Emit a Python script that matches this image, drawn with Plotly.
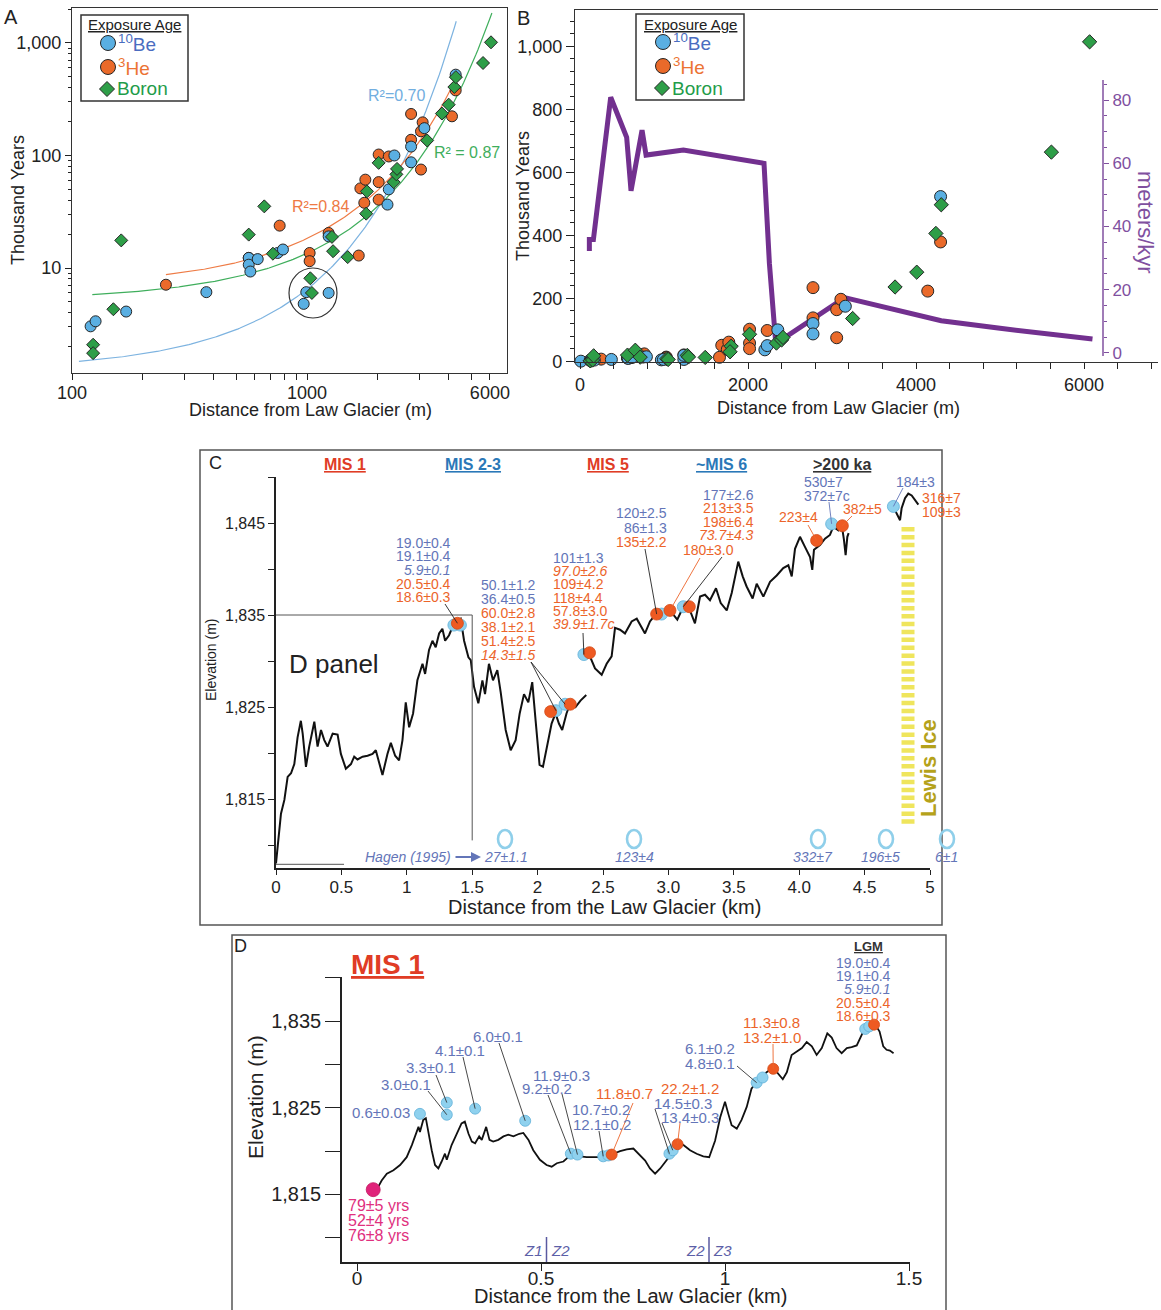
import plotly.graph_objects as go
import numpy as np

W, H = 1161, 1310
FONT = "Liberation Sans, Arial, Helvetica, sans-serif"

# ---------------- Panels A & B : exposure ages (thousand years) vs distance (m) ----------------
be_dist = [10, 120, 126, 170, 373, 565, 565, 574, 617, 750, 790, 968, 993, 1236, 1236,
           2200, 2228, 2354, 2773, 2773, 3158, 4292]
be_age = [0.6, 3.03, 3.36, 4.1, 6.1, 12.3, 10.7, 9.3, 12.0, 13.6, 14.6, 4.8, 6.1, 6.0, 19.1,
          36.6, 50, 100, 120, 87, 175, 523]
he_dist = [251, 565, 765, 1026, 1026, 1236, 1660, 1687, 1753, 1771, 2018, 2018, 2018, 2228,
           2773, 2773, 3055, 3055, 3105, 4139, 4292]
he_age = [7.1, 12.3, 23.8, 13.6, 11.5, 20.5, 12.9, 51, 38, 61, 102, 58, 40.5, 98,
          138, 234, 75, 164, 197, 223, 379]
bo_dist = [123, 123, 150, 162, 565, 658, 716, 1033, 1049, 1277, 1291, 1490, 1799, 1786, 2018,
           2338, 2400, 2416, 3245, 3750, 4008, 4236, 4300, 5611, 6066]
bo_age = [2.08, 1.75, 4.3, 17.6, 19.8, 35.3, 13.4, 8.1, 6.0, 18.9, 14.1, 12.5, 48, 30.4, 86,
          58, 68, 76, 136, 236, 283, 406, 497, 664, 1014]

# exponential trend lines  age = a * exp(b * distance), drawn between start and end distance
fit_be = dict(a=1.24, b=0.001654, start=107, end=4315, r2="R²=0.70")
fit_he = dict(a=6.81, b=0.000987, start=251, end=4292, r2="R²=0.84")
fit_bo = dict(a=5.16, b=0.000961, start=122, end=6120, r2="R² = 0.87")

# erosion rate (meters/kyr) along distance, panel B right axis
rate_dist = [111, 111, 159, 365, 555, 607, 738, 786, 1230, 2190, 2254, 2330,
             3150, 3600, 4000, 4300, 5000, 5600, 6100]
rate_val = [32.3, 35.9, 35.9, 80.9, 68.2, 51.3, 70.5, 62.6, 64.2, 60.0, 28.4, 3.0,
            17.5, 14.5, 12.0, 10.2, 7.8, 5.8, 4.4]

# ---------------- Panel C : elevation profile (km, m) ----------------
c1_km = [0, 0.013, 0.038, 0.064, 0.089, 0.115, 0.14, 0.165, 0.19, 0.204,
         0.229, 0.254, 0.293, 0.318, 0.344, 0.369, 0.394, 0.433, 0.471, 0.496,
         0.534, 0.573, 0.598, 0.623, 0.662, 0.70, 0.738, 0.763, 0.789, 0.814,
         0.852, 0.878, 0.911, 0.941, 0.967, 0.992, 1.018, 1.048, 1.081, 1.12,
         1.14, 1.17, 1.196, 1.221, 1.247, 1.272, 1.293, 1.323, 1.361, 1.387,
         1.412, 1.438, 1.471, 1.489, 1.514, 1.547, 1.578, 1.598, 1.628, 1.659,
         1.692, 1.718, 1.756, 1.794, 1.832, 1.863, 1.896, 1.929, 1.959, 1.985,
         2.015, 2.041, 2.074, 2.107, 2.137, 2.163, 2.188, 2.221, 2.252, 2.29,
         2.328, 2.372]
c1_el = [1808.0, 1809.8, 1813.4, 1814.9, 1817.4, 1817.8, 1818.8, 1821.7, 1823.5, 1822.1,
         1818.5, 1820.7, 1823.4, 1820.7, 1822.5, 1821.4, 1820.7, 1822.1, 1822.0, 1819.9,
         1818.3, 1818.8, 1819.6, 1819.3, 1819.6, 1819.7, 1819.9, 1820.3, 1818.8, 1817.6,
         1819.9, 1821.1, 1819.7, 1819.2, 1821.4, 1825.5, 1822.8, 1824.3, 1827.9, 1829.7,
         1828.6, 1831.2, 1832.2, 1831.5, 1833.0, 1833.5, 1832.2, 1832.8, 1834.1, 1834.4,
         1834.6, 1832.2, 1830.4, 1830.1, 1827.2, 1825.4, 1827.9, 1826.4, 1829.7, 1827.9,
         1829.0, 1826.6, 1822.5, 1820.3, 1821.4, 1824.3, 1826.4, 1825.5, 1827.7, 1823.5,
         1818.7, 1818.5, 1821.0, 1823.2, 1824.3, 1823.2, 1822.5, 1824.3, 1825.5, 1825.0,
         1825.7, 1826.3]
c2_km = [2.366, 2.40, 2.439, 2.49, 2.528, 2.566, 2.592, 2.63, 2.668, 2.719,
         2.758, 2.796, 2.821, 2.859, 2.91, 2.961, 3.012, 3.068, 3.114, 3.165,
         3.203, 3.242, 3.28, 3.318, 3.364, 3.40, 3.446, 3.484, 3.534, 3.568,
         3.598, 3.644, 3.675, 3.726, 3.777, 3.828, 3.878, 3.917, 3.943, 3.968,
         4.006, 4.044, 4.083, 4.10, 4.113, 4.159, 4.197, 4.235, 4.261, 4.299,
         4.325, 4.342, 4.355, 4.368, 4.378]
c2_el = [1831.0, 1830.5, 1829.2, 1828.5, 1829.7, 1830.5, 1833.6, 1833.4, 1833.0, 1834.3,
         1834.6, 1833.7, 1833.0, 1834.3, 1835.2, 1835.4, 1835.5, 1834.5, 1835.9, 1835.5,
         1834.1, 1837.0, 1837.2, 1836.6, 1837.9, 1836.3, 1835.5, 1837.4, 1840.8, 1839.2,
         1838.1, 1836.8, 1838.4, 1837.0, 1838.6, 1839.3, 1840.1, 1840.4, 1839.2, 1842.2,
         1843.5, 1842.4, 1841.3, 1839.9, 1842.1, 1842.6, 1843.3, 1843.7, 1844.6, 1844.2,
         1844.8, 1843.2, 1841.5, 1843.5, 1843.9]
c3_km = [4.694, 4.732, 4.771, 4.783, 4.809, 4.834, 4.86, 4.885, 4.911]
c3_el = [1846.8, 1846.4, 1845.3, 1846.6, 1847.7, 1848.2, 1848.0, 1847.5, 1847.0]

c_be_km = [1.36, 1.41, 2.14, 2.21, 2.354, 2.948, 3.114, 4.248, 4.72]
c_be_el = [1833.9, 1833.9, 1824.6, 1825.3, 1830.7, 1835.1, 1835.9, 1844.9, 1846.8]
c_he_km = [1.387, 2.10, 2.25, 2.397, 2.91, 3.012, 3.16, 4.133, 4.33]
c_he_el = [1834.1, 1824.5, 1825.3, 1830.9, 1835.1, 1835.5, 1835.9, 1843.1, 1844.7]

# ---------------- Panel D : MIS 1 detail profile ----------------
d_km = [0.058, 0.067, 0.081, 0.099, 0.117, 0.135, 0.149, 0.160, 0.167, 0.171,
        0.18, 0.187, 0.194, 0.203, 0.212, 0.221, 0.23, 0.239, 0.244, 0.257,
        0.271, 0.284, 0.293, 0.303, 0.312, 0.321, 0.332, 0.339, 0.351, 0.36,
        0.37, 0.384, 0.398, 0.411, 0.425, 0.441, 0.452, 0.466, 0.479, 0.497,
        0.515, 0.529, 0.543, 0.561, 0.574, 0.588, 0.606, 0.624, 0.643, 0.661,
        0.679, 0.697, 0.715, 0.733, 0.751, 0.765, 0.783, 0.796, 0.81, 0.824,
        0.837, 0.851, 0.862, 0.873, 0.887, 0.905, 0.923, 0.941, 0.957, 0.973,
        0.987, 1.0, 1.009, 1.018, 1.032, 1.045, 1.059, 1.072, 1.086, 1.1,
        1.113, 1.127, 1.141, 1.157, 1.168, 1.181, 1.195, 1.209, 1.222, 1.236,
        1.249, 1.263, 1.278, 1.29, 1.303, 1.317, 1.331, 1.344, 1.358, 1.369,
        1.38, 1.394, 1.408, 1.42, 1.43, 1.439, 1.448, 1.458]
d_el = [1815.9, 1816.6, 1817.4, 1817.8, 1818.4, 1819.3, 1820.7, 1822.0, 1822.8, 1822.2,
        1823.6, 1823.8, 1822.0, 1820.1, 1818.4, 1818.0, 1818.8, 1819.7, 1819.0, 1820.7,
        1822.0, 1823.2, 1823.4, 1822.0, 1821.1, 1820.9, 1821.7, 1821.3, 1822.8, 1821.3,
        1821.1, 1821.3, 1821.7, 1821.9, 1821.7, 1822.0, 1822.1, 1821.3, 1820.1, 1819.0,
        1818.4, 1818.2, 1818.6, 1818.8, 1819.3, 1819.3, 1819.4, 1819.3, 1819.3, 1819.3,
        1819.6, 1819.7, 1820.0, 1820.2, 1820.3, 1819.7, 1818.9, 1818.0, 1817.4, 1818.0,
        1818.7, 1819.5, 1820.7, 1821.1, 1820.7, 1820.1, 1819.7, 1819.4, 1819.3, 1821.2,
        1823.9, 1825.7, 1824.3, 1823.0, 1822.6, 1823.6, 1825.1, 1827.2, 1828.0, 1828.6,
        1829.1, 1829.5, 1829.1, 1828.3, 1829.1, 1831.1, 1831.5, 1831.9, 1832.6, 1832.1,
        1831.1, 1831.9, 1833.6, 1833.1, 1831.9, 1831.3, 1831.9, 1832.0, 1832.2, 1833.2,
        1834.2, 1834.4, 1834.6, 1833.8, 1832.1, 1831.7, 1831.6, 1831.3]
d_be_km = [0.171, 0.244, 0.244, 0.321, 0.457, 0.581, 0.599, 0.669, 0.683, 0.849, 0.858,
           1.086, 1.102, 1.381, 1.392]
d_be_el = [1824.3, 1825.6, 1824.2, 1824.9, 1823.5, 1819.7, 1819.6, 1819.4, 1819.5, 1819.7,
           1820.1, 1827.9, 1828.5, 1834.1, 1834.4]
d_he_km = [0.692, 0.871, 1.131, 1.405]
d_he_el = [1819.6, 1820.8, 1829.5, 1834.6]
d_hist_km = [0.044]
d_hist_el = [1815.55]

# ---------------- tick values ----------------
a_xt = [100, 1000, 6000]
a_xminor = [200, 300, 400, 500, 600, 700, 800, 900, 2000, 3000, 4000, 5000]
a_yt = [10, 100, 1000]
a_yminor = [v * m for m in (1, 10, 100) for v in range(2, 10)] + [2000]
b_xt = [0, 2000, 4000, 6000]
b_xminor = [v for v in range(400, 6801, 400) if v % 2000]
b_yt = [0, 200, 400, 600, 800, 1000]
b_yminor = [v for v in range(40, 1081, 40) if v % 200]
r_yt = [0, 20, 40, 60, 80]
r_yminor = [v for v in range(5, 86, 5) if v % 20]
c_xt = [0, 0.5, 1, 1.5, 2, 2.5, 3, 3.5, 4, 4.5, 5]
c_xl = ["0", "0.5", "1", "1.5", "2", "2.5", "3.0", "3.5", "4.0", "4.5", "5"]
c_yt = [1815, 1825, 1835, 1845]
c_yminor = [1810, 1820, 1830, 1840, 1850]
d_xt = [0, 0.5, 1, 1.5]
d_yt = [1815, 1825, 1835]
d_yminor = [1810, 1820, 1830, 1840]

# ---------------- colours ----------------
BE_C, HE_C, BO_C = "#5aafe2", "#ea6a2a", "#2e9e48"
BE_T, HE_T, BO_T = "#4a6cc0", "#ec7333", "#1f9c4a"
LBLUE, LORANGE, PINK = "#8fd1ee", "#ee5a22", "#e0237a"
TB, TO, TP = "#6375b8", "#ec642a", "#e0307e"
PURPLE, PURPLE_T = "#72308f", "#80509f"

def X(px):
    return px / W

def Y(py):
    return 1 - py / H

# axis geometry (pixels): left, right, top, bottom + ranges
C_G = dict(l=276, r=930, t=477, b=868, x0=0.0, x1=5.0, y0=1807.5, y1=1850.0)
D_G = dict(l=342, r=910, t=977, b=1262, x0=-0.0408, x1=1.5027, y0=1807.2, y1=1840.1)

def to_px(g, x, y):
    px = g["l"] + (x - g["x0"]) / (g["x1"] - g["x0"]) * (g["r"] - g["l"])
    py = g["b"] - (y - g["y0"]) / (g["y1"] - g["y0"]) * (g["b"] - g["t"])
    return px, py

fig = go.Figure()

# ---------- Panel A ----------
for f, col in [(fit_be, "#7db3e0"), (fit_he, "#ee7b45"), (fit_bo, "#3fae5c")]:
    xs = np.geomspace(f["start"], f["end"], 200)
    fig.add_trace(go.Scatter(x=xs, y=f["a"] * np.exp(f["b"] * xs), mode="lines",
                             line=dict(color=col, width=1.2), xaxis="x", yaxis="y",
                             hoverinfo="skip"))

def pts(x, y, xa, ya, sym, col, size, clip=True):
    return go.Scatter(x=x, y=y, mode="markers", xaxis=xa, yaxis=ya, cliponaxis=clip,
                      marker=dict(symbol=sym, size=size, color=col,
                                  line=dict(color="#262626", width=1)),
                      hoverinfo="skip")

fig.add_trace(pts(he_dist, he_age, "x", "y", "circle", HE_C, 11))
fig.add_trace(pts(be_dist, be_age, "x", "y", "circle", BE_C, 11))
fig.add_trace(pts(bo_dist, bo_age, "x", "y", "diamond", BO_C, 10))

# ---------- Panel B ----------
fig.add_trace(go.Scatter(x=rate_dist, y=rate_val, mode="lines", xaxis="x2", yaxis="y2",
                         line=dict(color=PURPLE, width=5), hoverinfo="skip"))
fig.add_trace(pts(he_dist, he_age, "x2", "y3", "circle", HE_C, 12, False))
fig.add_trace(pts(be_dist, be_age, "x2", "y3", "circle", BE_C, 12, False))
fig.add_trace(pts(bo_dist, bo_age, "x2", "y3", "diamond", BO_C, 11, False))

# ---------- Panel C ----------
for xs, ys in [(c1_km, c1_el), (c2_km, c2_el), (c3_km, c3_el)]:
    fig.add_trace(go.Scatter(x=xs, y=ys, mode="lines", xaxis="x4", yaxis="y4",
                             line=dict(color="#111", width=2), hoverinfo="skip"))

def soft(x, y, xa, ya, col, edge, size):
    return go.Scatter(x=x, y=y, mode="markers", xaxis=xa, yaxis=ya, cliponaxis=False,
                      marker=dict(size=size, color=col, line=dict(color=edge, width=0.8)),
                      hoverinfo="skip")

fig.add_trace(soft(c_be_km, c_be_el, "x4", "y4", LBLUE, "#5fb0d8", 12))
fig.add_trace(soft(c_he_km, c_he_el, "x4", "y4", LORANGE, "#d24a18", 12))

# ---------- Panel D ----------
fig.add_trace(go.Scatter(x=d_km, y=d_el, mode="lines", xaxis="x5", yaxis="y5",
                         line=dict(color="#111", width=1.8), hoverinfo="skip"))
fig.add_trace(soft(d_be_km, d_be_el, "x5", "y5", LBLUE, "#5fb0d8", 11))
fig.add_trace(soft(d_he_km, d_he_el, "x5", "y5", LORANGE, "#d24a18", 11))
fig.add_trace(soft(d_hist_km, d_hist_el, "x5", "y5", PINK, "#c01860", 14))

# ---------------- annotations & shapes ----------------
anns, shapes = [], []

def ann(text, px, py, size=14, color="#222", xa="center", ya="middle", angle=0, family=FONT):
    anns.append(dict(x=X(px), y=Y(py), xref="paper", yref="paper", text=text,
                     showarrow=False, xanchor=xa, yanchor=ya, textangle=angle,
                     font=dict(size=size, color=color, family=family)))

def block(lines, px, py0, dy, xa, size):
    for i, (t, c) in enumerate(lines):
        ann(t, px, py0 + i * dy, size, c, xa)

def seg(p0, p1, color="#333", width=0.9):
    shapes.append(dict(type="line", xref="paper", yref="paper", x0=X(p0[0]), y0=Y(p0[1]),
                       x1=X(p1[0]), y1=Y(p1[1]), line=dict(color=color, width=width)))

def rect(x0, y0, x1, y1, color="#555", width=1.5, fill="rgba(0,0,0,0)"):
    shapes.append(dict(type="rect", xref="paper", yref="paper", x0=X(x0), y0=Y(y1),
                       x1=X(x1), y1=Y(y0), line=dict(color=color, width=width), fillcolor=fill))

def circ(cx, cy, rx, ry, fill, line="#262626", lw=1):
    shapes.append(dict(type="circle", xref="paper", yref="paper", x0=X(cx - rx), x1=X(cx + rx),
                       y0=Y(cy + ry), y1=Y(cy - ry), fillcolor=fill, line=dict(color=line, width=lw)))

def diamond(cx, cy, r, fill):
    path = (f"M {X(cx)} {Y(cy - r)} L {X(cx + r)} {Y(cy)} L {X(cx)} {Y(cy + r)} "
            f"L {X(cx - r)} {Y(cy)} Z")
    shapes.append(dict(type="path", xref="paper", yref="paper", path=path, fillcolor=fill,
                       line=dict(color="#262626", width=1)))

# Panel A text
ann("A", 11, 17, 20)
ann("Thousand Years", 18, 200, 18, angle=-90)
ann("Distance from Law Glacier (m)", 310, 410, 18)
ann(fit_be["r2"], 396, 96, 16, "#72aee0")
ann(fit_bo["r2"], 467, 152, 16, "#3fae5c")
ann(fit_he["r2"], 321, 206, 16, "#ee7a44")
circ(313, 293, 24, 25, "rgba(0,0,0,0)", "#333", 1.2)

# Legends (A and B)
for (bx0, by0, bx1, by1) in [(81, 15, 188, 101), (636, 14, 744, 100)]:
    rect(bx0, by0, bx1, by1, "#333", 1.5, "white")
    cx = bx0 + 27
    ann("<u>Exposure Age</u>", (bx0 + bx1) / 2, by0 + 10, 15, "#222")
    circ(cx, by0 + 28, 7.5, 7.5, BE_C)
    circ(cx, by0 + 52, 7.5, 7.5, HE_C)
    diamond(cx - 1, by0 + 74, 7.5, BO_C)
    ann("<sup>10</sup>Be", cx + 8, by0 + 28, 19, BE_T, "left")
    ann("<sup>3</sup>He", cx + 8, by0 + 52, 19, HE_T, "left")
    ann("Boron", cx + 7, by0 + 74, 19, BO_T, "left")

# Panel B text
ann("B", 523, 18, 20)
ann("Thousand Years", 523, 196, 18, angle=-90)
ann("Distance from Law Glacier (m)", 838, 408, 18)
ann("meters/kyr", 1146, 222, 22, PURPLE_T, angle=90)
seg((1103, 80), (1103, 356), PURPLE_T, 1.5)

# ---------- Panel C decorations ----------
rect(200, 450, 942, 925, "#555", 1.5)
ann("C", 215, 463, 18)
for t, px, col in [("MIS 1", 345, "#e03c25"), ("MIS 2-3", 473, "#2a78b8"), ("MIS 5", 608, "#e03c25"),
                   ("~MIS 6", 721, "#2a78b8"), ("&gt;200 ka", 842, "#333")]:
    ann(f"<b><u>{t}</u></b>", px, 464, 16, col)
ann("Elevation (m)", 211, 660, 14, angle=-90)
ann("Distance from the Law Glacier (km)", 604, 907, 20)
ann("D panel", 334, 664, 26)
# D-panel outline
shapes.append(dict(type="line", xref="x4", yref="y4", x0=0, x1=1.5, y0=1835, y1=1835,
                   line=dict(color="#555", width=1)))
shapes.append(dict(type="line", xref="x4", yref="y4", x0=1.5, x1=1.5, y0=1835, y1=1810.5,
                   line=dict(color="#555", width=1)))
shapes.append(dict(type="line", xref="x4", yref="y4", x0=0, x1=0.52, y0=1807.9, y1=1807.9,
                   line=dict(color="#777", width=1.2)))

C = lambda i, arr_x, arr_y: to_px(C_G, arr_x[i], arr_y[i])
block([("19.0±0.4", TB), ("19.1±0.4", TB), ("<i>5.9±0.1</i>", TB), ("20.5±0.4", TO),
       ("18.6±0.3", TO)], 453, 543, 13.5, "right", 14)
seg((445, 604), C(0, c_he_km, c_he_el), "#222")
block([("50.1±1.2", TB), ("36.4±0.5", TB), ("60.0±2.8", TO), ("38.1±2.1", TO),
       ("51.4±2.5", TO), ("<i>14.3±1.5</i>", TO)], 479, 585, 14, "left", 14)
seg((531, 662), C(2, c_be_km, c_be_el), "#222")
seg((531, 662), C(3, c_be_km, c_be_el), "#222")
block([("101±1.3", TB), ("<i>97.0±2.6</i>", TO), ("109±4.2", TO), ("118±4.4", TO),
       ("57.8±3.0", TO), ("<i>39.9±1.7c</i>", TO)], 551, 558, 13.2, "left", 14)
seg((583, 633), C(4, c_be_km, c_be_el), "#222")
block([("120±2.5", TB), ("86±1.3", TB), ("135±2.2", TO)], 669, 513, 14.5, "right", 14)
seg((645, 549), C(4, c_he_km, c_he_el), "#222")
block([("177±2.6", TB), ("213±3.5", TO), ("198±6.4", TO), ("<i>73.7±4.3</i>", TO)],
      756, 495, 13.4, "right", 14)
seg((722, 557), C(6, c_be_km, c_be_el), "#222")
ann("180±3.0", 681, 550, 14, TO, "left")
seg((700, 558), C(5, c_he_km, c_he_el), TO)
block([("530±7", TB), ("372±7c", TB)], 802, 482, 13.5, "left", 14)
seg((829, 502), C(7, c_be_km, c_be_el), TB)
ann("223±4", 798, 517, 14, TO)
seg((808, 525), C(7, c_he_km, c_he_el), TO)
ann("382±5", 862, 509, 14, TO)
seg((852, 516), C(8, c_he_km, c_he_el), TO)
ann("184±3", 916, 482, 14, TB)
seg((903, 488), C(8, c_be_km, c_be_el), TB)
block([("316±7", TO), ("109±3", TO)], 920, 498, 14, "left", 14)

# Lewis Ice
shapes.append(dict(type="line", xref="paper", yref="paper", x0=X(908), x1=X(908),
                   y0=Y(527), y1=Y(827), line=dict(color="#efe55c", width=13, dash="4.5px,3.4px")))
ann("<b>Lewis Ice</b>", 928, 768, 22, "#b5a21a", angle=-90)

# bottom italic ages
for cx in [505, 634, 818, 886, 947]:
    circ(cx, 839, 7, 9, "rgba(0,0,0,0)", "#8fcfea", 2.6)
ann("<i>Hagen (1995)</i>", 453, 857, 14, TB, "right")
anns.append(dict(x=X(481), y=Y(857), xref="paper", yref="paper", text="", showarrow=True,
                 ax=-27, ay=0, arrowhead=2, arrowsize=1, arrowwidth=2, arrowcolor=TB))
ann("<i>27±1.1</i>", 482, 857, 14, TB, "left")
ann("<i>123±4</i>", 635, 857, 14, TB)
ann("<i>332±7</i>", 813, 857, 14, TB)
ann("<i>196±5</i>", 880, 857, 14, TB)
ann("<i>6±1</i>", 946, 857, 14, TB)

# ---------- Panel D decorations ----------
rect(232, 935, 946, 1312, "#555", 1.5)
ann("D", 240, 946, 18)
ann("<b><u>MIS 1</u></b>", 387, 964, 28, "#e03c25")
ann("Elevation (m)", 255, 1097, 21, angle=-90)
ann("Distance from the Law Glacier (km)", 630, 1296, 20)

Dp = lambda i, arr_x, arr_y: to_px(D_G, arr_x[i], arr_y[i])
ann("0.6±0.03", 412, 1112, 15, TB, "right")
ann("3.0±0.1", 379, 1084, 15, TB, "left")
seg((428, 1091), Dp(2, d_be_km, d_be_el))
ann("3.3±0.1", 404, 1067, 15, TB, "left")
seg((436, 1075), Dp(1, d_be_km, d_be_el))
ann("4.1±0.1", 433, 1050, 15, TB, "left")
seg((463, 1057), Dp(3, d_be_km, d_be_el))
ann("6.0±0.1", 471, 1036, 15, TB, "left")
seg((499, 1043), Dp(4, d_be_km, d_be_el))
ann("11.9±0.3", 531, 1075, 15, TB, "left")
ann("9.2±0.2", 520, 1088, 15, TB, "left")
seg((548, 1095), Dp(5, d_be_km, d_be_el))
seg((562, 1094), Dp(6, d_be_km, d_be_el))
ann("11.8±0.7", 594, 1093, 15, TO, "left")
seg((633, 1103), Dp(0, d_he_km, d_he_el), TO)
ann("10.7±0.2", 570, 1109, 15, TB, "left")
ann("12.1±0.2", 571, 1124, 15, TB, "left")
seg((599, 1131), Dp(7, d_be_km, d_be_el))
ann("22.2±1.2", 659, 1088, 15, TO, "left")
ann("14.5±0.3", 652, 1103, 15, TB, "left")
ann("13.4±0.3", 659, 1117, 15, TB, "left")
seg((655, 1109), Dp(9, d_be_km, d_be_el))
seg((662, 1123), Dp(10, d_be_km, d_be_el))
seg((680, 1123), Dp(1, d_he_km, d_he_el), TO)
ann("6.1±0.2", 737, 1048, 15, TB, "right")
ann("4.8±0.1", 737, 1063, 15, TB, "right")
seg((737, 1066), Dp(11, d_be_km, d_be_el))
ann("11.3±0.8", 772, 1022, 15, TO)
ann("13.2±1.0", 772, 1037, 15, TO)
seg((773, 1044), Dp(2, d_he_km, d_he_el), TO)
ann("<b><u>LGM</u></b>", 868, 946, 13, "#333")
block([("19.0±0.4", TB), ("19.1±0.4", TB), ("<i>5.9±0.1</i>", TB), ("20.5±0.4", TO),
       ("18.6±0.3", TO)], 893, 963, 13.2, "right", 14)
block([("79±5 yrs", TP), ("52±4 yrs", TP), ("76±8 yrs", TP)], 346, 1205, 15, "left", 16)
for bx, l, r in [(546.5, "Z1", "Z2"), (709, "Z2", "Z3")]:
    seg((bx, 1237), (bx, 1262), "#5a5aa0", 1.5)
    ann(f"<i>{l}</i>", bx - 2, 1250, 15, "#5c5fa8", "right")
    ann(f"<i>{r}</i>", bx + 2, 1250, 15, "#5c5fa8", "left")

# ---------------- axes ----------------
base = dict(showgrid=False, zeroline=False, showline=True, linecolor="#222", linewidth=1.2,
            ticks="outside", tickcolor="#222", tickwidth=1, automargin=False, tickangle=0)

def minor(vals, ln, col="#222"):
    return dict(tickvals=vals, ticks="outside", ticklen=ln, tickcolor=col, tickwidth=1)

layout = dict(
    width=W, height=H, margin=dict(l=0, r=0, t=0, b=0, autoexpand=False), paper_bgcolor="white",
    plot_bgcolor="rgba(0,0,0,0)", showlegend=False, font=dict(family=FONT, color="#222"),
    xaxis=dict(base, domain=[X(72), X(507)], type="log", range=[2, 3.851], anchor="y",
               tickvals=a_xt, ticktext=["100", "1000", "6000"], ticklen=6, mirror=True,
               linecolor="#333", tickfont=dict(size=18), ticklabelstandoff=-3,
               minor=minor(a_xminor, 6)),
    yaxis=dict(base, domain=[Y(373), Y(8)], type="log", range=[0.0667, 3.311], anchor="x",
               tickvals=a_yt, ticktext=["10", "100", "1,000"], ticklen=6,
               mirror=True, linecolor="#333", tickfont=dict(size=18),
               minor=minor(a_yminor, 3)),
    xaxis2=dict(base, domain=[X(575), X(1158)], range=[-60, 6880], anchor="y2",
                tickvals=b_xt, ticktext=[str(v) for v in b_xt], ticklen=6, mirror=True,
                linecolor="#333", tickfont=dict(size=18), minor=minor(b_xminor, 6)),
    yaxis2=dict(showgrid=False, zeroline=False, showline=False, domain=[Y(362), Y(10)],
                range=[-2.85, 108.5], anchor="free", position=X(1103), side="right",
                automargin=False,
                tickvals=r_yt, ticks="outside", ticklen=5, tickcolor=PURPLE_T,
                tickfont=dict(size=17, color=PURPLE_T), minor=minor(r_yminor, 3, PURPLE_T)),
    yaxis3=dict(base, overlaying="y2", side="left", anchor="x2", range=[-2, 1115],
                tickvals=b_yt, ticktext=["0", "200", "400", "600", "800", "1,000"], ticklen=8,
                linecolor="#333", tickfont=dict(size=18), minor=minor(b_yminor, 4)),
    xaxis4=dict(base, domain=[X(C_G["l"]), X(C_G["r"])], range=[C_G["x0"], C_G["x1"]],
                anchor="y4", tickvals=c_xt, ticktext=c_xl, ticklen=5, linewidth=1.5,
                tickfont=dict(size=17), ticklabelstandoff=-2),
    yaxis4=dict(base, domain=[Y(C_G["b"]), Y(C_G["t"])], range=[C_G["y0"], C_G["y1"]],
                anchor="x4", tickvals=c_yt, ticktext=["1,815", "1,825", "1,835", "1,845"],
                ticklen=6, linewidth=1.5, tickfont=dict(size=16), minor=minor(c_yminor, 6)),
    xaxis5=dict(base, domain=[X(D_G["l"]), X(D_G["r"])], range=[D_G["x0"], D_G["x1"]],
                anchor="y5", tickvals=d_xt, ticktext=["0", "0.5", "1", "1.5"],
                ticklen=7, linewidth=1.5, tickfont=dict(size=19), ticklabelstandoff=-9),
    yaxis5=dict(base, domain=[Y(D_G["b"]), Y(D_G["t"])], range=[D_G["y0"], D_G["y1"]],
                anchor="x5", tickvals=d_yt, ticktext=["1,815", "1,825", "1,835"],
                ticklen=15, linewidth=1.5, tickfont=dict(size=20), minor=minor(d_yminor, 15)),
    annotations=anns,
    shapes=shapes,
)
fig.update_layout(**layout)
fig.write_html("out.html", config={"displayModeBar": False},
               post_script="document.body.style.margin='0px';document.body.style.overflow='hidden';")
